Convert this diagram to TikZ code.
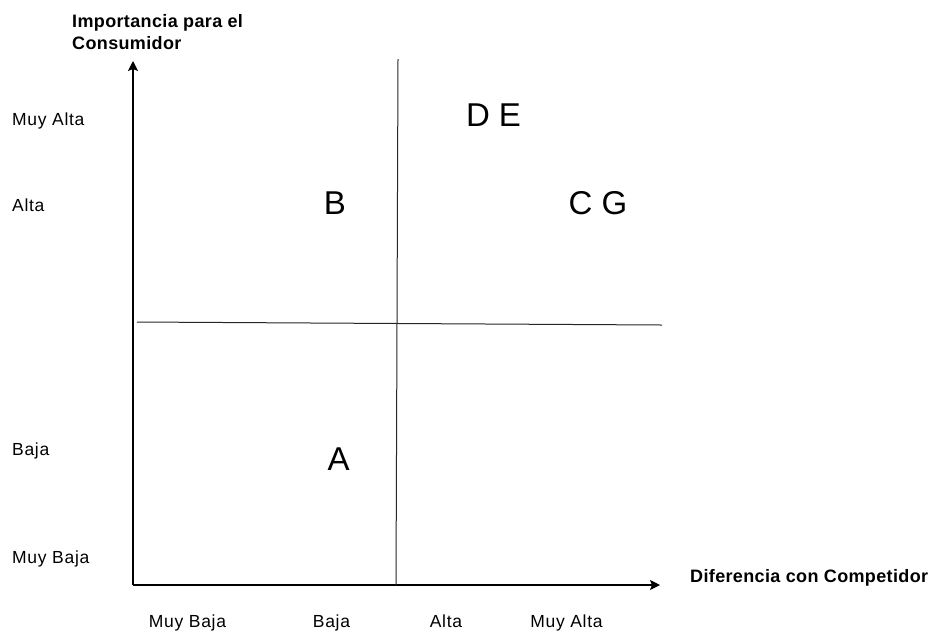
\documentclass[tikz,border=0pt]{standalone}
\usepackage{fontspec}
\setmainfont{Liberation Sans}
\newfontfamily\lblfont[LetterSpace=4]{Liberation Sans}
\newfontfamily\ttlfont[LetterSpace=2]{Liberation Sans}
\usetikzlibrary{arrows.meta}
\tikzset{
  lbl/.style={anchor=base west,inner sep=0pt,font=\lblfont\fontsize{17.5}{20}\selectfont},
  lblc/.style={anchor=base,inner sep=0pt,font=\lblfont\fontsize{17.5}{20}\selectfont},
  ttl/.style={anchor=base west,inner sep=0pt,font=\ttlfont\fontsize{18}{22}\selectfont\bfseries},
  big/.style={anchor=base,inner sep=0pt,font=\fontsize{33}{36}\selectfont},
  axis/.style={line width=1.2pt,-{Stealth[length=10pt,width=10pt,inset=2pt]}},
  divline/.style={line width=1pt,draw=black!85}
}
\begin{document}
\begin{tikzpicture}[x=1pt,y=-1pt]
\useasboundingbox (0,0) rectangle (936,633);
% axes
\coordinate (o) at (133,585);
\coordinate (ytip) at (133,61);
\coordinate (xtip) at (660,585);
\draw[axis] (o) -- (ytip);
\draw[axis] (o) -- (xtip);
% dividers
\coordinate (vt) at (398,59);
\coordinate (vb) at (396,585);
\coordinate (hl) at (137,322);
\coordinate (hr) at (662,325);
\draw[divline] (vt) -- (vb);
\draw[divline] (hl) -- (hr);
% titles
\node[ttl] (t1) at (72,27) {Importancia para el};
\node[ttl] (t2) at (72,49) {Consumidor};
\node[ttl] (t3) at (690,582) {Diferencia con Competidor};
% y labels
\node[lbl] (y4) at (12,125) {Muy Alta};
\node[lbl] (y3) at (12,211) {Alta};
\node[lbl] (y2) at (12,455) {Baja};
\node[lbl] (y1) at (12,563) {Muy Baja};
% x labels
\node[lblc] (x1) at (187.5,627) {Muy Baja};
\node[lblc] (x2) at (331.5,627) {Baja};
\node[lblc] (x3) at (446,627) {Alta};
\node[lblc] (x4) at (566.5,627) {Muy Alta};
% letters
\node[big] (de) at (493.5,126.7) {D E};
\node[big] (b) at (335,214) {B};
\node[big] (cg) at (598,214) {C G};
\node[big] (a) at (338.7,470.7) {A};
\end{tikzpicture}
\end{document}
